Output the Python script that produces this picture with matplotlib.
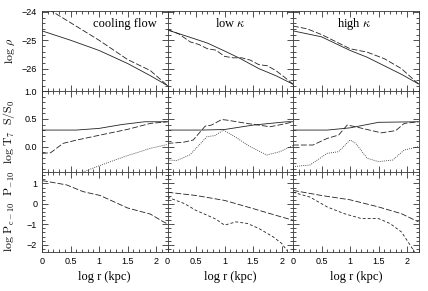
import matplotlib
matplotlib.use("Agg")
import matplotlib.pyplot as plt
from matplotlib.ticker import MultipleLocator

plt.rcParams['mathtext.fontset'] = 'cm'

# ---------------- data (log r in kpc) ----------------
# Row 1: log rho
cf_rho_solid_x = [0, 0.5, 1.0, 1.5, 1.9, 2.2]
cf_rho_solid_y = [-24.67, -25.0, -25.36, -25.82, -26.25, -26.6]
cf_rho_dash_x = [0, 0.19, 1.0, 1.5, 1.9, 2.2]
cf_rho_dash_y = [-23.77, -24.0, -25.0, -25.68, -26.07, -26.6]

lk_rho_solid_x = [0, 0.4, 0.7, 1.0, 1.27, 1.6, 1.9, 2.2]
lk_rho_solid_y = [-24.64, -24.9, -25.1, -25.38, -25.64, -26.0, -26.25, -26.55]
lk_rho_dash_x = [0, 0.2, 0.4, 0.55, 0.7, 0.85, 1.0, 1.15, 1.3, 1.45, 1.6, 1.75, 1.9, 2.05, 2.2]
lk_rho_dash_y = [-24.62, -24.78, -25.06, -25.15, -25.3, -25.35, -25.57, -25.62, -25.62,
                 -25.7, -25.86, -25.9, -26.07, -26.3, -26.55]

hk_rho_solid_x = [0, 0.5, 1.0, 1.3, 1.6, 1.9, 2.2]
hk_rho_solid_y = [-24.67, -24.88, -25.36, -25.6, -25.9, -26.2, -26.54]
hk_rho_dash_x = [0, 0.25, 0.5, 0.75, 1.0, 1.3, 1.6, 1.9, 2.2]
hk_rho_dash_y = [-24.5, -24.6, -24.8, -25.05, -25.3, -25.42, -25.65, -26.0, -26.54]

# Row 2: log T7 (solid), log S/S0 (dashed), third quantity (dotted)
cf_T_x = [0, 0.6, 1.0, 1.4, 1.8, 2.2]
cf_T_y = [0.30, 0.30, 0.33, 0.40, 0.45, 0.45]
cf_S_x = [0, 0.15, 0.37, 0.61, 1.02, 1.49, 1.9, 2.2]
cf_S_y = [-0.12, -0.11, 0.06, 0.12, 0.21, 0.31, 0.42, 0.45]
cf_D_x = [0, 0.5, 0.81, 1.2, 1.5, 1.72, 1.9, 2.16, 2.2]
cf_D_y = [-0.75, -0.55, -0.42, -0.27, -0.16, -0.09, -0.03, 0.03, 0.04]

lk_T_x = [0, 0.6, 1.0, 1.5, 2.09, 2.2]
lk_T_y = [0.30, 0.30, 0.31, 0.39, 0.45, 0.45]
lk_S_x = [0, 0.28, 0.45, 0.66, 0.77, 0.95, 1.04, 1.39, 1.8, 2.09, 2.2]
lk_S_y = [0.06, 0.08, 0.12, 0.37, 0.39, 0.49, 0.48, 0.42, 0.36, 0.42, 0.45]
lk_D_x = [0, 0.16, 0.39, 0.69, 0.83, 0.98, 1.15, 1.45, 1.74, 1.97, 2.2]
lk_D_y = [-0.24, -0.25, -0.15, 0.18, 0.20, 0.30, 0.20, 0.0, -0.15, -0.09, 0.02]

hk_T_x = [0, 0.6, 1.0, 1.5, 2.2]
hk_T_y = [0.30, 0.30, 0.34, 0.44, 0.45]
hk_S_x = [0, 0.35, 0.6, 0.8, 0.95, 1.05, 1.3, 1.55, 1.8, 1.95, 2.2]
hk_S_y = [0.03, 0.03, 0.15, 0.21, 0.39, 0.37, 0.31, 0.25, 0.29, 0.42, 0.45]
hk_D_x = [0, 0.3, 0.6, 0.8, 1.0, 1.1, 1.3, 1.5, 1.75, 1.95, 2.2]
hk_D_y = [-0.36, -0.33, -0.12, -0.09, 0.12, 0.06, -0.21, -0.27, -0.24, -0.06, 0.0]

# Row 3: log P_c-10 (long dash) and log P_-10 (short dash)
cf_Pc_x = [0, 0.43, 0.72, 1.02, 1.5, 1.9, 2.13, 2.2]
cf_Pc_y = [1.14, 0.93, 0.6, 0.41, -0.2, -0.5, -0.88, -0.98]

lk_Pc_x = [0, 0.5, 1.0, 1.5, 1.9, 2.2]
lk_Pc_y = [0.57, 0.41, 0.17, -0.23, -0.56, -0.8]
lk_P_x = [0, 0.3, 0.5, 0.7, 0.85, 1.0, 1.2, 1.4, 1.6, 1.85, 2.0, 2.1]
lk_P_y = [0.33, 0.01, -0.32, -0.56, -0.75, -1.04, -0.88, -0.96, -1.2, -1.61, -1.93, -2.3]

hk_Pc_x = [0, 0.5, 1.0, 1.5, 1.9, 2.2]
hk_Pc_y = [0.66, 0.41, 0.2, -0.15, -0.48, -0.88]
hk_P_x = [0, 0.3, 0.6, 0.9, 1.2, 1.5, 1.7, 1.9, 2.05, 2.13]
hk_P_y = [0.57, 0.33, -0.15, -0.48, -0.72, -0.72, -0.96, -1.37, -2.0, -2.35]

titles = ["cooling flow", r"low $\kappa$", r"high $\kappa$"]
xticks = [0, 0.5, 1, 1.5, 2]
xticklabels = ["0", "0.5", "1", "1.5", "2"]
rho_ticks = [-26, -25, -24]
ts_ticks = [0, 0.5, 1]
p_ticks = [-2, -1, 0, 1]

# ---------------- figure ----------------
fig = plt.figure(figsize=(4.28, 2.91), dpi=100)
L, W = 42 / 428, 125.5 / 428
T, H = 11 / 291, 80.3 / 291
axes = [[None] * 3 for _ in range(3)]
for r in range(3):
    for c in range(3):
        axes[r][c] = fig.add_axes([L + c * W, 1 - T - (r + 1) * H, W, H])

lw = 0.6
col = '#222222'
DL = (0, (7, 2.5))
DS = (0, (3.5, 2.5))
DOT = (0, (1, 1.5))

rows = [
    [[(cf_rho_solid_x, cf_rho_solid_y, '-'), (cf_rho_dash_x, cf_rho_dash_y, DL)],
     [(lk_rho_solid_x, lk_rho_solid_y, '-'), (lk_rho_dash_x, lk_rho_dash_y, DL)],
     [(hk_rho_solid_x, hk_rho_solid_y, '-'), (hk_rho_dash_x, hk_rho_dash_y, DL)]],
    [[(cf_T_x, cf_T_y, '-'), (cf_S_x, cf_S_y, DL), (cf_D_x, cf_D_y, DOT)],
     [(lk_T_x, lk_T_y, '-'), (lk_S_x, lk_S_y, DL), (lk_D_x, lk_D_y, DOT)],
     [(hk_T_x, hk_T_y, '-'), (hk_S_x, hk_S_y, DL), (hk_D_x, hk_D_y, DOT)]],
    [[(cf_Pc_x, cf_Pc_y, DL)],
     [(lk_Pc_x, lk_Pc_y, DL), (lk_P_x, lk_P_y, DS)],
     [(hk_Pc_x, hk_Pc_y, DL), (hk_P_x, hk_P_y, DS)]],
]
ylims = [(-26.8, -23.97), (-0.45, 1.0), (-2.35, 1.58)]
yt = [rho_ticks, ts_ticks, p_ticks]
yminor = [0.2, 0.1, 0.2]
ylabels = [r"$\mathrm{log}\ \rho$", r"$\mathrm{log\ T_7\ \ S/S_0}$",
           r"$\mathrm{log\ P_{c-10}\ \ P_{-10}}$"]

for r in range(3):
    for c in range(3):
        ax = axes[r][c]
        for x, y, ls in rows[r][c]:
            ax.plot(x, y, color=col, lw=lw, linestyle=ls)
        ax.set_xlim(0, 2.2)
        ax.set_ylim(*ylims[r])
        ax.set_xticks(xticks)
        ax.set_yticks(yt[r])
        ax.xaxis.set_minor_locator(MultipleLocator(0.1))
        ax.yaxis.set_minor_locator(MultipleLocator(yminor[r]))
        ax.tick_params(which='both', direction='in', top=True, right=True,
                       width=0.6, color='#333333', labelsize=6.5)
        ax.tick_params(which='major', length=4)
        ax.tick_params(which='minor', length=2)
        for s in ax.spines.values():
            s.set_linewidth(0.6)
            s.set_color('#333333')
        if r == 2:
            ax.set_xticklabels(xticklabels)
            for lab in ax.get_xticklabels():
                lab.set_fontfamily('Liberation Sans')
            ax.set_xlabel(r"log r (kpc)", fontsize=9, family='Liberation Serif', labelpad=4)
        else:
            ax.set_xticklabels([])
        if c == 0:
            for lab in ax.get_yticklabels():
                lab.set_fontfamily('Liberation Sans')
            ax.set_ylabel(ylabels[r], fontsize=8.5)
        else:
            ax.set_yticklabels([])
        if r == 0:
            ax.text([0.66, 0.5, 0.49][c], 0.84, titles[c], transform=ax.transAxes,
                    ha='center', va='center', fontsize=9, family='Liberation Serif')

for r in range(3):
    axes[r][0].yaxis.set_label_coords(-0.2, 0.5)

fig.savefig("out.png", dpi=100)
